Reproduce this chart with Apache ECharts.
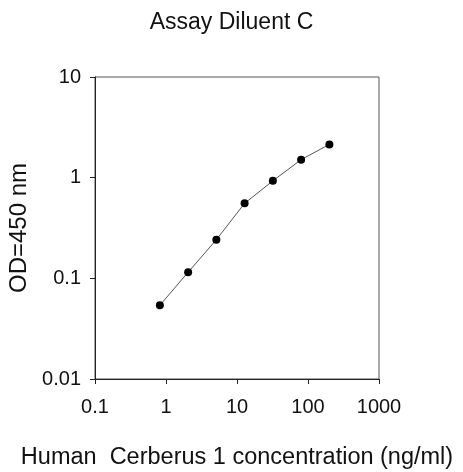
<!DOCTYPE html>
<html>
<head>
<meta charset="utf-8">
<script src="https://cdn.jsdelivr.net/npm/echarts@6/dist/echarts.min.js"></script>
<style>
  html, body { margin: 0; padding: 0; background: #fff; }
  #chart { width: 463px; height: 472px; }
</style>
</head>
<body>
<div id="chart"></div>
<script>
// standard curve points (concentration ng/ml, OD 450 nm)
const concentrations = [0.82, 2.05, 5.12, 12.8, 32, 80, 200];
const odValues = [0.054, 0.115, 0.242, 0.556, 0.93, 1.51, 2.14];
const xTickLabels = ['0.1', '1', '10', '100', '1000'];
const yTickLabels = ['0.01', '0.1', '1', '10'];

const font = '"Liberation Sans", Arial, sans-serif';

function pickLabel(labels, v) {
  // log axis gives floats like 0.09999, match to nearest label
  let best = '';
  let bestDiff = Infinity;
  labels.forEach(l => {
    const d = Math.abs(Math.log10(parseFloat(l)) - Math.log10(v));
    if (d < bestDiff) { bestDiff = d; best = l; }
  });
  return bestDiff < 0.01 ? best : '';
}

const chart = echarts.init(document.getElementById('chart'));

const option = {
  backgroundColor: '#fff',
  animation: false,
  title: {
    text: 'Assay Diluent C',
    left: 'center',
    top: 6,
    textStyle: { fontFamily: font, fontSize: 23, fontWeight: 'normal', color: '#111' }
  },
  grid: {
    left: 95,
    top: 77,
    width: 284,
    height: 302,
    outerBoundsMode: 'none', // keep the plot box fixed, names sit outside
    show: true,
    borderColor: '#555',
    borderWidth: 1,
    backgroundColor: 'transparent'
  },
  xAxis: {
    type: 'log',
    logBase: 10,
    min: 0.1,
    max: 1000,
    name: 'Human  Cerberus 1 concentration (ng/ml)',
    nameLocation: 'middle',
    nameGap: 67,
    nameTextStyle: { fontFamily: font, fontSize: 23.5, color: '#111' },
    axisLine: { lineStyle: { color: '#222', width: 1 } },
    axisTick: { show: true, length: 5, inside: false, lineStyle: { color: '#222' } },
    minorTick: { show: false },
    splitLine: { show: false },
    axisLabel: {
      margin: 18,
      fontFamily: font,
      fontSize: 20,
      color: '#111',
      formatter: v => pickLabel(xTickLabels, v)
    }
  },
  yAxis: {
    type: 'log',
    logBase: 10,
    min: 0.01,
    max: 10,
    name: 'OD=450 nm',
    nameLocation: 'middle',
    nameGap: 64,
    nameTextStyle: { fontFamily: font, fontSize: 24, color: '#111' },
    axisLine: { lineStyle: { color: '#222', width: 1 } },
    axisTick: { show: true, length: 5, lineStyle: { color: '#222' } },
    minorTick: { show: false },
    splitLine: { show: false },
    axisLabel: {
      margin: 14,
      fontFamily: font,
      fontSize: 20,
      color: '#111',
      formatter: v => pickLabel(yTickLabels, v)
    }
  },
  series: [
    {
      type: 'line',
      data: concentrations.map((c, i) => [c, odValues[i]]),
      symbol: 'circle',
      symbolSize: 8,
      itemStyle: { color: '#000' },
      lineStyle: { color: '#555', width: 1 }
    }
  ]
};

chart.setOption(option);
</script>
</body>
</html>
